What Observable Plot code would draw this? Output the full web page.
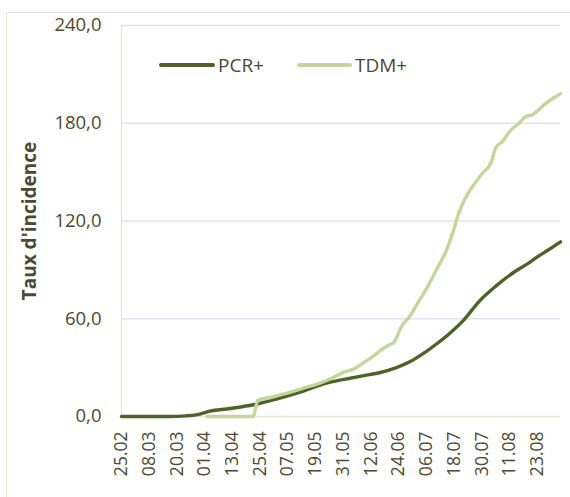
<!DOCTYPE html>
<html>
<head>
<meta charset="utf-8">
<script src="https://cdn.jsdelivr.net/npm/d3@7"></script>
<script src="https://cdn.jsdelivr.net/npm/@observablehq/plot@0.6"></script>
<style>
  html, body { margin: 0; padding: 0; background: #fff; }
  #wrap { position: relative; width: 570px; height: 497px; overflow: hidden; font-family: "Open Sans", sans-serif; }
  #border { position: absolute; left: 6px; top: 12px; width: 700px; height: 700px; border-top: 1px solid #e8e5d5; border-left: 1px solid #e8e5d5; pointer-events: none; }
  #legend { position: absolute; left: 0; top: 0; pointer-events: none; }
</style>
</head>
<body>
<div id="wrap">
  <div id="border"></div>
  <div id="chart"></div>
  <svg id="legend" width="570" height="120"></svg>
</div>
<script>
// ---- data ----
const pcrDates = ["25.02","16.03","24.03","30.03","02.04","12.04","22.04","02.05","14.05","24.05","03.06","09.06","16.06","23.06","29.06","05.07","10.07","16.07","22.07","29.07","05.08","13.08","19.08","23.08","28.08","02.09"];
const pcrValues = [0,0,0.4,1.5,2.9,4.9,7.2,10.7,15.8,20.6,23.5,25.1,27,30,33.7,39,44.2,51,59,71,80,88.7,94,98,102.5,107.2];

const tdmDates = ["02.04","22.04","24.04","29.04","05.05","14.05","20.05","26.05","31.05","05.06","09.06","13.06","16.06","20.06","22.06","25.06","29.06","02.07","05.07","08.07","11.07","14.07","17.07","20.07","24.07","28.07","30.07","03.08","05.08","08.08","11.08","15.08","18.08","21.08","26.08","30.08","02.09"];
const tdmValues = [0,0,10,11.5,13.8,17.5,20,23.5,27.1,29.5,33.3,37,40.5,44,45.6,54.8,62,69.2,76,83.6,92,100,111,125,137,145.2,149,156,165,169,175,180,184.2,185.3,191.4,195.5,198.2];

const seriesNames = ["PCR+", "TDM+"];
const seriesColors = ["#4f6228", "#c3d69b"];
const xTickLabels = ["25.02","08.03","20.03","01.04","13.04","25.04","07.05","19.05","31.05","12.06","24.06","06.07","18.07","30.07","11.08","23.08"];
const yTicks = [0, 60, 120, 180, 240];
const yTitle = "Taux d'incidence";
const firstDay = "25.02";
const lastDay = "02.09";

// ---- build ----
const parse = s => d3.utcParse("%d.%m.%Y")(s + ".2020");
const fmtX = d3.utcFormat("%d.%m");
const fmtY = d => d.toFixed(1).replace(".", ",");
const rows = [
  ...pcrDates.map((d, i) => ({date: parse(d), value: pcrValues[i], series: seriesNames[0]})),
  ...tdmDates.map((d, i) => ({date: parse(d), value: tdmValues[i], series: seriesNames[1]}))
];
const textColor = "#4b4931";

const chart = Plot.plot({
  width: 570,
  height: 497,
  marginLeft: 121,
  marginRight: 10,
  marginTop: 25,
  marginBottom: 81,
  style: {fontFamily: "'Open Sans', sans-serif", fontSize: "18px", color: textColor, background: "transparent"},
  x: {type: "utc", domain: [parse(firstDay), parse(lastDay)]},
  y: {domain: [0, 240]},
  color: {domain: seriesNames, range: seriesColors},
  marks: [
    Plot.gridY(yTicks.slice(1), {stroke: "#e3e2ee", strokeOpacity: 1, strokeWidth: 1.3}),
    Plot.ruleY([0], {stroke: "#e8e6dc", strokeWidth: 1.3}),
    Plot.ruleX([parse(firstDay)], {stroke: "#e6e3d0", strokeWidth: 1.3}),
    Plot.axisY({ticks: yTicks, tickFormat: fmtY, tickSize: 0, tickPadding: 20, label: null, fontSize: 18.5}),
    Plot.axisX({ticks: xTickLabels.map(parse), tickFormat: fmtX, tickRotate: -90, tickSize: 0, tickPadding: 15, label: null, fontSize: 17.5}),
    Plot.text([yTitle], {frameAnchor: "left", textAnchor: "middle", lineAnchor: "middle", rotate: -90, dx: -92, fontWeight: "bold", fontSize: 19, fill: textColor}),
    Plot.line(rows, {x: "date", y: "value", z: "series", stroke: "series", strokeWidth: 3.4, curve: "monotone-x", strokeLinecap: "round", strokeLinejoin: "round"})
  ]
});
document.getElementById("chart").appendChild(chart);

// ---- legend ----
const leg = d3.select("#legend");
const legItems = [{x: 161, w: 52, tx: 218}, {x: 299, w: 51, tx: 355}];
seriesNames.forEach((name, i) => {
  const it = legItems[i];
  leg.append("line").attr("x1", it.x).attr("x2", it.x + it.w).attr("y1", 65).attr("y2", 65)
    .attr("stroke", seriesColors[i]).attr("stroke-width", 4).attr("stroke-linecap", "round");
  leg.append("text").attr("x", it.tx).attr("y", 72).text(name)
    .attr("fill", textColor).attr("font-family", "'Open Sans', sans-serif").attr("font-size", 19);
});
</script>
</body>
</html>
